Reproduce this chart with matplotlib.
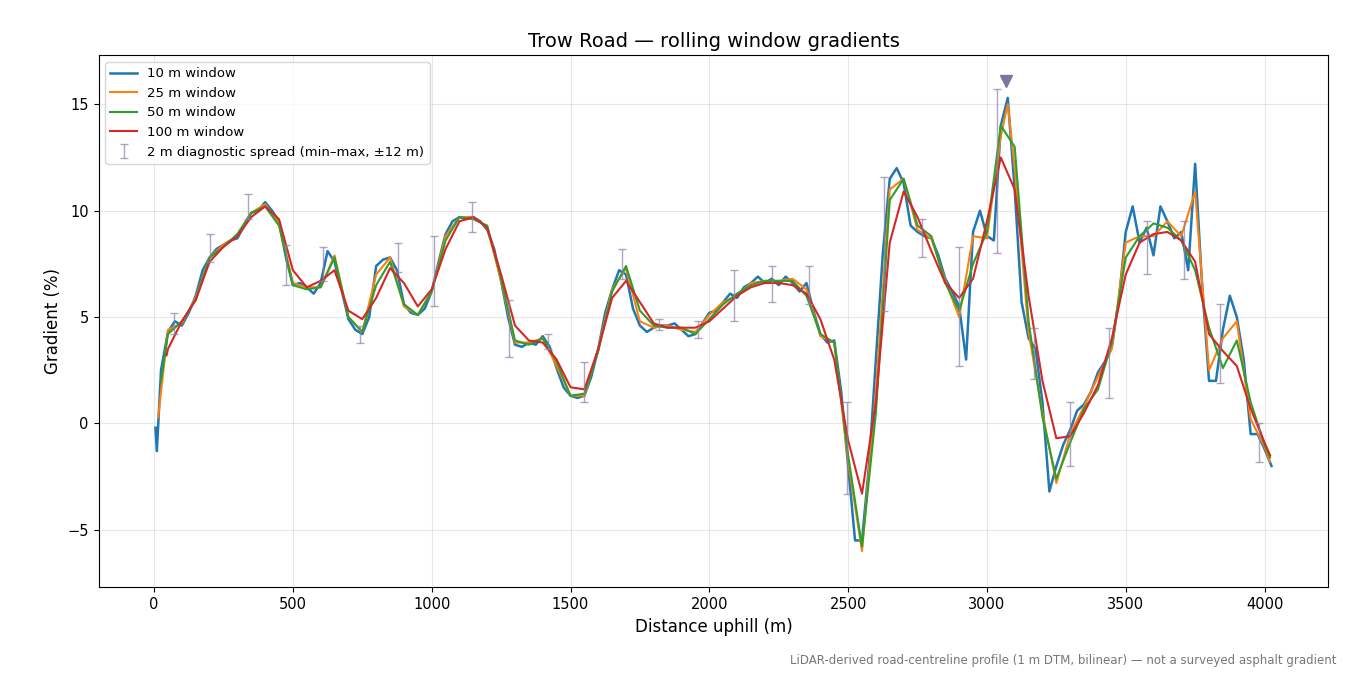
import numpy as np
import matplotlib.pyplot as plt

# 10 m window (read every 25 m)
x10 = [5, 10] + list(range(25, 4026, 25))
g10 = [-0.2, -1.3, 2.5, 4.3, 4.8, 4.6, 5.2, 6.0, 7.2, 7.8, 8.2, 8.4, 8.6, 8.7, 9.3, 9.9, 10.0, 10.4, 10.0, 9.5,
       7.8, 6.5, 6.6, 6.4, 6.1, 6.6, 8.1, 7.6, 6.3, 4.9, 4.4, 4.2, 5.0, 7.4, 7.7, 7.8, 7.2, 5.6, 5.2, 5.1,
       5.4, 6.2, 7.6, 8.9, 9.5, 9.7, 9.6, 9.7, 9.5, 9.1, 8.2, 6.7, 5.0, 3.7, 3.6, 3.8, 3.7, 4.1, 3.6, 2.6,
       1.7, 1.3, 1.2, 1.3, 2.2, 3.5, 5.2, 6.3, 7.2, 7.0, 5.4, 4.6, 4.3, 4.5, 4.6, 4.6, 4.7, 4.4, 4.1, 4.2,
       4.7, 5.2, 5.3, 5.7, 6.1, 5.9, 6.4, 6.6, 6.9, 6.6, 6.8, 6.5, 6.9, 6.6, 6.2, 6.6, 5.3, 4.2, 3.8, 3.9,
       1.5, -2.0, -5.5, -5.5, -2.0, 3.0, 8.0, 11.5, 12.0, 11.3, 9.3, 9.0, 8.8, 8.7, 7.9, 6.8, 6.2, 5.5, 3.0, 9.0,
       10.0, 8.8, 8.6, 14.0, 15.3, 11.0, 5.7, 4.0, 3.5, 1.0, -3.2, -2.0, -1.0, -0.3, 0.6, 0.9, 1.5, 2.4, 2.9, 3.6,
       5.8, 9.0, 10.2, 8.5, 9.2, 7.9, 10.2, 9.5, 8.7, 9.0, 7.2, 12.2, 6.5, 2.0, 2.0, 4.4, 6.0, 5.0, 3.0, -0.5,
       -0.5, -1.2, -2.0]

# 25 m window
x25 = [15] + list(range(50, 3051, 50)) + [3075] + list(range(3100, 4001, 50)) + [4020]
g25 = [0.3, 4.4, 4.7, 5.9, 7.8, 8.4, 8.8, 9.9, 10.3, 9.4, 6.6, 6.4, 6.4, 7.9, 5.0, 4.3, 7.0, 7.8, 5.5, 5.1,
       6.2, 8.8, 9.7, 9.7, 9.2, 6.7, 3.8, 3.8, 4.0, 2.7, 1.3, 1.3, 3.5, 6.3, 7.3, 4.8, 4.5, 4.6, 4.4, 4.3,
       5.1, 5.7, 6.0, 6.6, 6.7, 6.7, 6.8, 6.3, 4.1, 3.8, -1.8, -6.0, 1.5, 11.0, 11.5, 9.1, 8.7, 6.7, 5.0, 8.8,
       8.7, 13.5, 15.0, 12.0, 4.3, 0.5, -2.8, -0.5, 0.8, 2.2, 3.5, 8.5, 8.8, 8.8, 9.5, 8.8, 10.9, 2.5, 4.0, 4.8,
       0.2, -1.1, -1.8]

# 50 m window
x50 = [25] + list(range(50, 4001, 50)) + [4020]
g50 = [2.0, 4.2, 4.8, 5.8, 7.8, 8.3, 8.9, 9.9, 10.2, 9.3, 6.5, 6.3, 6.4, 7.8, 5.0, 4.3, 6.5, 7.6, 5.6, 5.1,
       6.2, 8.6, 9.7, 9.6, 9.3, 6.8, 3.9, 3.7, 4.0, 2.9, 1.3, 1.4, 3.4, 6.2, 7.4, 5.3, 4.6, 4.5, 4.5, 4.2,
       4.9, 5.6, 6.1, 6.5, 6.7, 6.7, 6.7, 6.0, 4.2, 3.8, -1.5, -5.8, 0.5, 10.5, 11.5, 9.3, 8.8, 6.6, 5.3, 7.5,
       9.0, 14.0, 13.0, 4.8, 0.3, -2.6, -0.9, 0.7, 1.6, 3.8, 7.8, 8.8, 9.4, 9.2, 8.6, 7.2, 4.5, 2.6, 3.9, 1.0,
       -1.0, -1.6]

# 100 m window
x100 = [45] + list(range(50, 4001, 50)) + [4020]
g100 = [3.2, 3.5, 4.8, 5.8, 7.6, 8.3, 8.8, 9.7, 10.2, 9.6, 7.2, 6.4, 6.7, 7.2, 5.3, 4.9, 5.9, 7.3, 6.6, 5.5,
        6.3, 8.2, 9.5, 9.7, 9.2, 7.0, 4.6, 3.9, 3.8, 3.0, 1.7, 1.6, 3.5, 5.9, 6.7, 5.7, 4.7, 4.5, 4.5, 4.5,
        4.8, 5.4, 6.0, 6.4, 6.6, 6.6, 6.5, 6.1, 4.9, 3.0, -0.8, -3.3, 1.0, 8.5, 10.9, 9.7, 8.1, 6.6, 5.9, 6.8,
        9.5, 12.5, 11.0, 6.0, 2.0, -0.7, -0.6, 0.5, 1.8, 4.0, 7.0, 8.5, 8.9, 9.0, 8.6, 7.6, 4.2, 3.4, 2.7, 0.7,
        -0.9, -1.5]

# 2 m diagnostic spread (min, max)
ex = [70, 200, 340, 475, 610, 740, 880, 1010, 1145, 1280, 1420, 1550, 1685, 1820, 1960, 2090, 2225,
      2360, 2495, 2630, 2765, 2900, 3035, 3170, 3300, 3440, 3575, 3710, 3840, 3980]
emin = [4.2, 7.6, 9.6, 6.5, 6.7, 3.8, 7.1, 5.5, 9.0, 3.1, 3.5, 1.0, 6.8, 4.4, 4.0, 4.8, 5.7,
        5.6, -3.3, 5.3, 7.8, 2.7, 8.0, 2.1, -2.0, 1.2, 7.0, 6.8, 1.9, -1.8]
emax = [5.2, 8.9, 10.8, 8.4, 8.3, 4.6, 8.5, 8.8, 10.4, 5.8, 4.2, 2.9, 8.2, 4.9, 4.8, 7.2, 7.4,
        7.4, 1.0, 11.6, 9.6, 8.3, 15.7, 4.5, 1.0, 4.5, 9.5, 9.5, 5.6, 0.0]

peak_x, peak_y = 3070, 16.1

fig, ax = plt.subplots(figsize=(13.5, 6.75), dpi=100)

ax.plot(x10, g10, color='#1f77b4', lw=1.8, label='10 m window')
ax.plot(x25, g25, color='#ff7f0e', lw=1.5, label='25 m window')
ax.plot(x50, g50, color='#2ca02c', lw=1.5, label='50 m window')
ax.plot(x100, g100, color='#d62728', lw=1.5, label='100 m window')

emid = (np.array(emin) + np.array(emax)) / 2
ax.errorbar(ex, emid, yerr=[emid - np.array(emin), np.array(emax) - emid], fmt='none',
            ecolor='#8c7fa8', alpha=0.7, elinewidth=1, capsize=3,
            label='2 m diagnostic spread (min–max, ±12 m)')
ax.plot([peak_x], [peak_y], marker='v', color='#8073a0', ms=8, ls='none')

ax.set_xlim(-200, 4230)
ax.set_ylim(-7.7, 17.3)
ax.set_yticks([-5, 0, 5, 10, 15])
ax.grid(True, alpha=0.3)
ax.tick_params(labelsize=10.5)
ax.set_xlabel('Distance uphill (m)', fontsize=12)
ax.set_ylabel('Gradient (%)', fontsize=12)
ax.set_title('Trow Road — rolling window gradients', fontsize=14)
ax.legend(loc='upper left', fontsize=9.5)

fig.subplots_adjust(left=0.073, right=0.984, top=0.918, bottom=0.13)
fig.text(0.99, 0.012, 'LiDAR-derived road-centreline profile (1 m DTM, bilinear) — not a surveyed asphalt gradient',
         ha='right', va='bottom', fontsize=8.5, color='#777777')

plt.savefig('out.png')
